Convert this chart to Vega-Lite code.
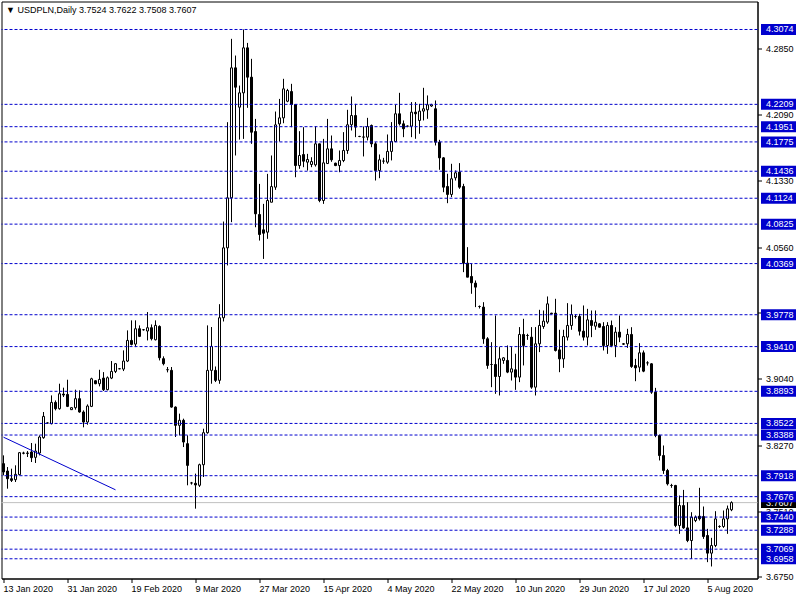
{
"$schema": "https://vega.github.io/schema/vega-lite/v6.json",
"width": 756, "height": 577,
"autosize": "none",
"padding": {"left": 1.5, "top": 1.5, "right": 42.5, "bottom": 21.5},
"background": "white",
"title": {"text": "▼ USDPLN,Daily  3.7524 3.7622 3.7508 3.7607", "anchor": "start", "offset": -13, "dx": 5, "font": "Liberation Sans", "fontSize": 9, "fontWeight": "normal", "color": "black"},
"config": {"view": {"stroke": "black", "strokeWidth": 1}, "font": "Liberation Sans"},
"datasets": {
"bars": [
{"d":"2020-01-13","o":3.8057,"h":3.8153,"l":3.7922,"c":3.7961},
{"d":"2020-01-14","o":3.7972,"h":3.8018,"l":3.7768,"c":3.7883},
{"d":"2020-01-15","o":3.7883,"h":3.7999,"l":3.7845,"c":3.7864},
{"d":"2020-01-16","o":3.7872,"h":3.8038,"l":3.7845,"c":3.7934},
{"d":"2020-01-17","o":3.7930,"h":3.8192,"l":3.7922,"c":3.8184},
{"d":"2020-01-19","o":3.8180,"h":3.8195,"l":3.8165,"c":3.8178},
{"d":"2020-01-20","o":3.8180,"h":3.8203,"l":3.8134,"c":3.8176},
{"d":"2020-01-21","o":3.8192,"h":3.8296,"l":3.8076,"c":3.8126},
{"d":"2020-01-22","o":3.8130,"h":3.8288,"l":3.8065,"c":3.8203},
{"d":"2020-01-23","o":3.8180,"h":3.8384,"l":3.8153,"c":3.8365},
{"d":"2020-01-24","o":3.8357,"h":3.8654,"l":3.8345,"c":3.8603},
{"d":"2020-01-26","o":3.8527,"h":3.8535,"l":3.8519,"c":3.8527},
{"d":"2020-01-27","o":3.8519,"h":3.8846,"l":3.8511,"c":3.8765},
{"d":"2020-01-28","o":3.8765,"h":3.8788,"l":3.8673,"c":3.8692},
{"d":"2020-01-29","o":3.8692,"h":3.8981,"l":3.8681,"c":3.8865},
{"d":"2020-01-30","o":3.8861,"h":3.8935,"l":3.8827,"c":3.8850},
{"d":"2020-01-31","o":3.8857,"h":3.9027,"l":3.8711,"c":3.8719},
{"d":"2020-02-02","o":3.8681,"h":3.8708,"l":3.8677,"c":3.8704},
{"d":"2020-02-03","o":3.8704,"h":3.8912,"l":3.8681,"c":3.8808},
{"d":"2020-02-04","o":3.8808,"h":3.8904,"l":3.8646,"c":3.8654},
{"d":"2020-02-05","o":3.8654,"h":3.8673,"l":3.8477,"c":3.8538},
{"d":"2020-02-06","o":3.8538,"h":3.8742,"l":3.8507,"c":3.8723},
{"d":"2020-02-07","o":3.8719,"h":3.9050,"l":3.8711,"c":3.9038},
{"d":"2020-02-09","o":3.9015,"h":3.9020,"l":3.8975,"c":3.8981},
{"d":"2020-02-10","o":3.8981,"h":3.9142,"l":3.8950,"c":3.9031},
{"d":"2020-02-11","o":3.9046,"h":3.9115,"l":3.8897,"c":3.8912},
{"d":"2020-02-12","o":3.8912,"h":3.9065,"l":3.8904,"c":3.9050},
{"d":"2020-02-13","o":3.9046,"h":3.9243,"l":3.9034,"c":3.9123},
{"d":"2020-02-14","o":3.9123,"h":3.9220,"l":3.9104,"c":3.9212},
{"d":"2020-02-16","o":3.9154,"h":3.9160,"l":3.9148,"c":3.9154},
{"d":"2020-02-17","o":3.9150,"h":3.9366,"l":3.9127,"c":3.9243},
{"d":"2020-02-18","o":3.9243,"h":3.9597,"l":3.9231,"c":3.9481},
{"d":"2020-02-19","o":3.9481,"h":3.9713,"l":3.9424,"c":3.9435},
{"d":"2020-02-20","o":3.9439,"h":3.9713,"l":3.9404,"c":3.9616},
{"d":"2020-02-21","o":3.9616,"h":3.9655,"l":3.9520,"c":3.9528},
{"d":"2020-02-23","o":3.9605,"h":3.9612,"l":3.9595,"c":3.9605},
{"d":"2020-02-24","o":3.9590,"h":3.9809,"l":3.9481,"c":3.9628},
{"d":"2020-02-25","o":3.9628,"h":3.9666,"l":3.9481,"c":3.9501},
{"d":"2020-02-26","o":3.9489,"h":3.9713,"l":3.9481,"c":3.9655},
{"d":"2020-02-27","o":3.9643,"h":3.9655,"l":3.9250,"c":3.9281},
{"d":"2020-02-28","o":3.9270,"h":3.9297,"l":3.9193,"c":3.9212},
{"d":"2020-03-01","o":3.9143,"h":3.9174,"l":3.9112,"c":3.9143},
{"d":"2020-03-02","o":3.9135,"h":3.9174,"l":3.8704,"c":3.8711},
{"d":"2020-03-03","o":3.8711,"h":3.8719,"l":3.8365,"c":3.8500},
{"d":"2020-03-04","o":3.8500,"h":3.8635,"l":3.8384,"c":3.8558},
{"d":"2020-03-05","o":3.8558,"h":3.8577,"l":3.8249,"c":3.8307},
{"d":"2020-03-06","o":3.8288,"h":3.8384,"l":3.7807,"c":3.8037},
{"d":"2020-03-08","o":3.7834,"h":3.7846,"l":3.7815,"c":3.7834},
{"d":"2020-03-09","o":3.7830,"h":3.7942,"l":3.7537,"c":3.7811},
{"d":"2020-03-10","o":3.7807,"h":3.8057,"l":3.7788,"c":3.8045},
{"d":"2020-03-11","o":3.8045,"h":3.8461,"l":3.7903,"c":3.8415},
{"d":"2020-03-12","o":3.8415,"h":3.9655,"l":3.8403,"c":3.9135},
{"d":"2020-03-13","o":3.9135,"h":3.9636,"l":3.8981,"c":3.9412},
{"d":"2020-03-15","o":3.9135,"h":3.9180,"l":3.9000,"c":3.9020},
{"d":"2020-03-16","o":3.9020,"h":3.9900,"l":3.8980,"c":3.9743},
{"d":"2020-03-17","o":3.9743,"h":4.0855,"l":3.9700,"c":4.0551},
{"d":"2020-03-18","o":4.0551,"h":4.2003,"l":4.0348,"c":4.1129},
{"d":"2020-03-19","o":4.1129,"h":4.2966,"l":4.0848,"c":4.2631},
{"d":"2020-03-20","o":4.2631,"h":4.2773,"l":4.1618,"c":4.2407},
{"d":"2020-03-22","o":4.2176,"h":4.2426,"l":4.1802,"c":4.2342},
{"d":"2020-03-23","o":4.2342,"h":4.3074,"l":4.1810,"c":4.2862},
{"d":"2020-03-24","o":4.2862,"h":4.2919,"l":4.2169,"c":4.2523},
{"d":"2020-03-25","o":4.2523,"h":4.2735,"l":4.1753,"c":4.1887},
{"d":"2020-03-26","o":4.1895,"h":4.2041,"l":4.0789,"c":4.0944},
{"d":"2020-03-27","o":4.0936,"h":4.1290,"l":4.0635,"c":4.0705},
{"d":"2020-03-29","o":4.0759,"h":4.1059,"l":4.0423,"c":4.0720},
{"d":"2020-03-30","o":4.0732,"h":4.1406,"l":4.0655,"c":4.1098},
{"d":"2020-03-31","o":4.1078,"h":4.1618,"l":4.1078,"c":4.1259},
{"d":"2020-04-01","o":4.1252,"h":4.2126,"l":4.1221,"c":4.1972},
{"d":"2020-04-02","o":4.1983,"h":4.2272,"l":4.1779,"c":4.2053},
{"d":"2020-04-03","o":4.2053,"h":4.2504,"l":4.1991,"c":4.2388},
{"d":"2020-04-05","o":4.2245,"h":4.2388,"l":4.2234,"c":4.2369},
{"d":"2020-04-06","o":4.2357,"h":4.2446,"l":4.1945,"c":4.2207},
{"d":"2020-04-07","o":4.2207,"h":4.2207,"l":4.1367,"c":4.1502},
{"d":"2020-04-08","o":4.1502,"h":4.1899,"l":4.1464,"c":4.1618},
{"d":"2020-04-09","o":4.1629,"h":4.1945,"l":4.1483,"c":4.1552},
{"d":"2020-04-10","o":4.1541,"h":4.1637,"l":4.1444,"c":4.1572},
{"d":"2020-04-12","o":4.1514,"h":4.1598,"l":4.1483,"c":4.1548},
{"d":"2020-04-13","o":4.1510,"h":4.1957,"l":4.1490,"c":4.1753},
{"d":"2020-04-14","o":4.1753,"h":4.1753,"l":4.1078,"c":4.1098},
{"d":"2020-04-15","o":4.1098,"h":4.1810,"l":4.1059,"c":4.1533},
{"d":"2020-04-16","o":4.1525,"h":4.2041,"l":4.1521,"c":4.1695},
{"d":"2020-04-17","o":4.1695,"h":4.1849,"l":4.1545,"c":4.1568},
{"d":"2020-04-19","o":4.1529,"h":4.1535,"l":4.1495,"c":4.1502},
{"d":"2020-04-20","o":4.1502,"h":4.1676,"l":4.1425,"c":4.1560},
{"d":"2020-04-21","o":4.1560,"h":4.1888,"l":4.1541,"c":4.1676},
{"d":"2020-04-22","o":4.1676,"h":4.2146,"l":4.1637,"c":4.1973},
{"d":"2020-04-23","o":4.1973,"h":4.2300,"l":4.1907,"c":4.2080},
{"d":"2020-04-24","o":4.2080,"h":4.2215,"l":4.1830,"c":4.1946},
{"d":"2020-04-26","o":4.1838,"h":4.1845,"l":4.1830,"c":4.1838},
{"d":"2020-04-27","o":4.1830,"h":4.1953,"l":4.1607,"c":4.1832},
{"d":"2020-04-28","o":4.1830,"h":4.2053,"l":4.1792,"c":4.1953},
{"d":"2020-04-29","o":4.1965,"h":4.1976,"l":4.1714,"c":4.1753},
{"d":"2020-04-30","o":4.1753,"h":4.1772,"l":4.1329,"c":4.1445},
{"d":"2020-05-01","o":4.1445,"h":4.1630,"l":4.1356,"c":4.1568},
{"d":"2020-05-03","o":4.1553,"h":4.1591,"l":4.1522,"c":4.1553},
{"d":"2020-05-04","o":4.1541,"h":4.1861,"l":4.1522,"c":4.1665},
{"d":"2020-05-05","o":4.1665,"h":4.2004,"l":4.1561,"c":4.1780},
{"d":"2020-05-06","o":4.1780,"h":4.2204,"l":4.1772,"c":4.2100},
{"d":"2020-05-07","o":4.2100,"h":4.2342,"l":4.1965,"c":4.1984},
{"d":"2020-05-08","o":4.1984,"h":4.2023,"l":4.1830,"c":4.1927},
{"d":"2020-05-10","o":4.1957,"h":4.1965,"l":4.1945,"c":4.1957},
{"d":"2020-05-11","o":4.1957,"h":4.2235,"l":4.1830,"c":4.2119},
{"d":"2020-05-12","o":4.2119,"h":4.2235,"l":4.1811,"c":4.2100},
{"d":"2020-05-13","o":4.2023,"h":4.2215,"l":4.1869,"c":4.2131},
{"d":"2020-05-14","o":4.2131,"h":4.2400,"l":4.2023,"c":4.2158},
{"d":"2020-05-15","o":4.2146,"h":4.2312,"l":4.2042,"c":4.2204},
{"d":"2020-05-17","o":4.2190,"h":4.2215,"l":4.2180,"c":4.2204},
{"d":"2020-05-18","o":4.2158,"h":4.2254,"l":4.1734,"c":4.1772},
{"d":"2020-05-19","o":4.1772,"h":4.1799,"l":4.1453,"c":4.1591},
{"d":"2020-05-20","o":4.1591,"h":4.1599,"l":4.1194,"c":4.1252},
{"d":"2020-05-21","o":4.1260,"h":4.1407,"l":4.1067,"c":4.1168},
{"d":"2020-05-22","o":4.1168,"h":4.1522,"l":4.1137,"c":4.1349},
{"d":"2020-05-24","o":4.1360,"h":4.1445,"l":4.1329,"c":4.1418},
{"d":"2020-05-25","o":4.1426,"h":4.1530,"l":4.1233,"c":4.1252},
{"d":"2020-05-26","o":4.1260,"h":4.1291,"l":4.0270,"c":4.0374},
{"d":"2020-05-27","o":4.0374,"h":4.0559,"l":4.0212,"c":4.0212},
{"d":"2020-05-28","o":4.0220,"h":4.0366,"l":4.0020,"c":4.0147},
{"d":"2020-05-29","o":4.0143,"h":4.0174,"l":3.9866,"c":4.0097},
{"d":"2020-05-31","o":3.9873,"h":3.9885,"l":3.9850,"c":3.9873},
{"d":"2020-06-01","o":3.9866,"h":3.9923,"l":3.9442,"c":3.9500},
{"d":"2020-06-02","o":3.9500,"h":3.9519,"l":3.9153,"c":3.9192},
{"d":"2020-06-03","o":3.9203,"h":3.9461,"l":3.8941,"c":3.9203},
{"d":"2020-06-04","o":3.9203,"h":3.9769,"l":3.8864,"c":3.9064},
{"d":"2020-06-05","o":3.9064,"h":3.9404,"l":3.8845,"c":3.9269},
{"d":"2020-06-07","o":3.9250,"h":3.9288,"l":3.9211,"c":3.9280},
{"d":"2020-06-08","o":3.9250,"h":3.9423,"l":3.9103,"c":3.9115},
{"d":"2020-06-09","o":3.9115,"h":3.9404,"l":3.9018,"c":3.9153},
{"d":"2020-06-10","o":3.9142,"h":3.9327,"l":3.8910,"c":3.9057},
{"d":"2020-06-11","o":3.9057,"h":3.9635,"l":3.8999,"c":3.9550},
{"d":"2020-06-12","o":3.9550,"h":3.9731,"l":3.9192,"c":3.9423},
{"d":"2020-06-14","o":3.9538,"h":3.9558,"l":3.9488,"c":3.9538},
{"d":"2020-06-15","o":3.9519,"h":3.9635,"l":3.8922,"c":3.8941},
{"d":"2020-06-16","o":3.8941,"h":3.9635,"l":3.8845,"c":3.9442},
{"d":"2020-06-17","o":3.9442,"h":3.9835,"l":3.9346,"c":3.9654},
{"d":"2020-06-18","o":3.9642,"h":3.9827,"l":3.9615,"c":3.9704},
{"d":"2020-06-19","o":3.9693,"h":3.9989,"l":3.9673,"c":3.9904},
{"d":"2020-06-21","o":3.9796,"h":3.9800,"l":3.9785,"c":3.9789},
{"d":"2020-06-22","o":3.9796,"h":3.9962,"l":3.9353,"c":3.9365},
{"d":"2020-06-23","o":3.9372,"h":3.9604,"l":3.9114,"c":3.9268},
{"d":"2020-06-24","o":3.9268,"h":3.9604,"l":3.9164,"c":3.9526},
{"d":"2020-06-25","o":3.9519,"h":3.9912,"l":3.9480,"c":3.9654},
{"d":"2020-06-26","o":3.9654,"h":3.9896,"l":3.9604,"c":3.9781},
{"d":"2020-06-28","o":3.9758,"h":3.9781,"l":3.9735,"c":3.9758},
{"d":"2020-06-29","o":3.9758,"h":3.9788,"l":3.9538,"c":3.9588},
{"d":"2020-06-30","o":3.9588,"h":3.9885,"l":3.9480,"c":3.9519},
{"d":"2020-07-01","o":3.9519,"h":3.9846,"l":3.9422,"c":3.9719},
{"d":"2020-07-02","o":3.9711,"h":3.9827,"l":3.9519,"c":3.9654},
{"d":"2020-07-03","o":3.9646,"h":3.9827,"l":3.9604,"c":3.9692},
{"d":"2020-07-05","o":3.9673,"h":3.9680,"l":3.9630,"c":3.9634},
{"d":"2020-07-06","o":3.9642,"h":3.9692,"l":3.9365,"c":3.9422},
{"d":"2020-07-07","o":3.9422,"h":3.9692,"l":3.9326,"c":3.9654},
{"d":"2020-07-08","o":3.9654,"h":3.9711,"l":3.9403,"c":3.9422},
{"d":"2020-07-09","o":3.9422,"h":3.9634,"l":3.9288,"c":3.9577},
{"d":"2020-07-10","o":3.9577,"h":3.9769,"l":3.9461,"c":3.9519},
{"d":"2020-07-12","o":3.9442,"h":3.9450,"l":3.9430,"c":3.9438},
{"d":"2020-07-13","o":3.9442,"h":3.9615,"l":3.9395,"c":3.9550},
{"d":"2020-07-14","o":3.9550,"h":3.9634,"l":3.9164,"c":3.9180},
{"d":"2020-07-15","o":3.9191,"h":3.9268,"l":3.9010,"c":3.9164},
{"d":"2020-07-16","o":3.9172,"h":3.9450,"l":3.9114,"c":3.9338},
{"d":"2020-07-17","o":3.9338,"h":3.9365,"l":3.9114,"c":3.9126},
{"d":"2020-07-19","o":3.9222,"h":3.9241,"l":3.9191,"c":3.9222},
{"d":"2020-07-20","o":3.9211,"h":3.9218,"l":3.8864,"c":3.8883},
{"d":"2020-07-21","o":3.8883,"h":3.8933,"l":3.8363,"c":3.8382},
{"d":"2020-07-22","o":3.8382,"h":3.8394,"l":3.8094,"c":3.8151},
{"d":"2020-07-23","o":3.8151,"h":3.8267,"l":3.7939,"c":3.7978},
{"d":"2020-07-24","o":3.7978,"h":3.7997,"l":3.7805,"c":3.7824},
{"d":"2020-07-26","o":3.7805,"h":3.7824,"l":3.7778,"c":3.7805},
{"d":"2020-07-27","o":3.7805,"h":3.7812,"l":3.7323,"c":3.7342},
{"d":"2020-07-28","o":3.7342,"h":3.7689,"l":3.7246,"c":3.7573},
{"d":"2020-07-29","o":3.7573,"h":3.7754,"l":3.7304,"c":3.7315},
{"d":"2020-07-30","o":3.7315,"h":3.7612,"l":3.7150,"c":3.7169},
{"d":"2020-07-31","o":3.7169,"h":3.7496,"l":3.6957,"c":3.7439},
{"d":"2020-08-02","o":3.7400,"h":3.7458,"l":3.7381,"c":3.7439},
{"d":"2020-08-03","o":3.7450,"h":3.7778,"l":3.7400,"c":3.7420},
{"d":"2020-08-04","o":3.7446,"h":3.7562,"l":3.7188,"c":3.7215},
{"d":"2020-08-05","o":3.7227,"h":3.7304,"l":3.6919,"c":3.7023},
{"d":"2020-08-06","o":3.7023,"h":3.7200,"l":3.6869,"c":3.7111},
{"d":"2020-08-07","o":3.7111,"h":3.7508,"l":3.7092,"c":3.7419},
{"d":"2020-08-09","o":3.7331,"h":3.7345,"l":3.7315,"c":3.7331},
{"d":"2020-08-10","o":3.7331,"h":3.7516,"l":3.7315,"c":3.7419},
{"d":"2020-08-11","o":3.7419,"h":3.7573,"l":3.7246,"c":3.7535},
{"d":"2020-08-12","o":3.7524,"h":3.7622,"l":3.7508,"c":3.7607}
],
"levels": [{"p":4.3074},{"p":4.2209},{"p":4.1951},{"p":4.1775},{"p":4.1436},{"p":4.1124},{"p":4.0825},{"p":4.0369},{"p":3.9778},{"p":3.9410},{"p":3.8893},{"p":3.8522},{"p":3.8388},{"p":3.7918},{"p":3.7676},{"p":3.7440},{"p":3.7288},{"p":3.7069},{"p":3.6958}],
"last": [{"p":3.7607}],
"trend": [{"d":"2020-01-13","p":3.8363},{"d":"2020-02-14","p":3.7755}]
},
"layer": [
{"data": {"name": "last"}, "mark": {"type": "rule", "color": "#c0c0c0", "strokeWidth": 1},
 "encoding": {"y": {"field": "p", "type": "quantitative", "title": null,
   "scale": {"domain": [3.67301, 4.33975], "nice": false, "zero": false},
   "axis": {"orient": "right", "values": [4.324, 4.285, 4.247, 4.209, 4.171, 4.133, 4.095, 4.056, 4.018, 3.98, 3.942, 3.904, 3.866, 3.827, 3.789, 3.751, 3.713, 3.675], "format": ".4f", "grid": false, "tickSize": 4, "tickColor": "black", "domainColor": "black", "labelFont": "Liberation Sans", "labelFontSize": 9, "labelColor": "black", "labelPadding": 4, "labelOverlap": false, "labelBound": false, "labelFlush": false}}}},
{"data": {"name": "bars"}, "mark": {"type": "rule", "color": "black", "strokeWidth": 1},
 "encoding": {
   "x": {"field": "d", "type": "ordinal", "sort": "ascending", "title": null,
     "scale": {"paddingInner": 0, "paddingOuter": 0, "domain": {"unionWith": ["2020-08-13","2020-08-14","2020-08-16","2020-08-17","2020-08-18","2020-08-19"]}},
     "axis": {"values": ["2020-01-13","2020-01-31","2020-02-19","2020-03-09","2020-03-27","2020-04-15","2020-05-04","2020-05-22","2020-06-10","2020-06-29","2020-07-17","2020-08-05"],
       "labelExpr": "utcFormat(toDate(datum.value), '%-d %b %Y')", "labelAngle": 0, "labelAlign": "left", "labelBaseline": "top", "labelFont": "Liberation Sans", "labelFontSize": 9, "labelColor": "black", "tickColor": "black", "tickSize": 4, "labelPadding": 2, "domainColor": "black", "grid": false, "labelOverlap": false, "labelBound": false, "labelFlush": false}},
   "y": {"field": "l", "type": "quantitative", "title": null},
   "y2": {"field": "h"}}},
{"data": {"name": "bars"}, "mark": {"type": "bar", "width": 2, "stroke": "black", "strokeWidth": 1},
 "encoding": {
   "x": {"field": "d", "type": "ordinal", "sort": "ascending", "title": null},
   "y": {"field": "o", "type": "quantitative", "title": null},
   "y2": {"field": "c"},
   "fill": {"condition": {"test": "datum.c < datum.o", "value": "black"}, "value": "white"}}},
{"data": {"name": "levels"}, "mark": {"type": "rule", "color": "#0000cd", "strokeWidth": 1, "strokeDash": [3, 2]},
 "encoding": {"y": {"field": "p", "type": "quantitative", "title": null}}},
{"data": {"name": "trend"}, "mark": {"type": "line", "color": "#0000cd", "strokeWidth": 1},
 "encoding": {"x": {"field": "d", "type": "ordinal", "sort": "ascending", "title": null}, "y": {"field": "p", "type": "quantitative", "title": null}}},
{"data": {"name": "last"}, "mark": {"type": "rect", "fill": "black", "xOffset": 3.5, "x2Offset": 38.5, "yOffset": -5.5, "y2Offset": 5.5, "clip": false},
 "encoding": {"x": {"value": "width"}, "x2": {"value": "width"}, "y": {"field": "p", "type": "quantitative", "title": null}, "y2": {"field": "p"}}},
{"data": {"name": "last"}, "mark": {"type": "text", "align": "left", "baseline": "middle", "dx": 8.5, "font": "Liberation Sans", "fontSize": 9, "color": "white", "clip": false},
 "encoding": {"x": {"value": "width"}, "y": {"field": "p", "type": "quantitative", "title": null}, "text": {"field": "p", "type": "quantitative", "format": ".4f"}}},
{"data": {"name": "levels"}, "mark": {"type": "rect", "fill": "#0000cd", "xOffset": 3.5, "x2Offset": 38.5, "yOffset": -5.5, "y2Offset": 5.5, "clip": false},
 "encoding": {"x": {"value": "width"}, "x2": {"value": "width"}, "y": {"field": "p", "type": "quantitative", "title": null}, "y2": {"field": "p"}}},
{"data": {"name": "levels"}, "mark": {"type": "text", "align": "left", "baseline": "middle", "dx": 8.5, "font": "Liberation Sans", "fontSize": 9, "color": "white", "clip": false},
 "encoding": {"x": {"value": "width"}, "y": {"field": "p", "type": "quantitative", "title": null}, "text": {"field": "p", "type": "quantitative", "format": ".4f"}}}
]
}
